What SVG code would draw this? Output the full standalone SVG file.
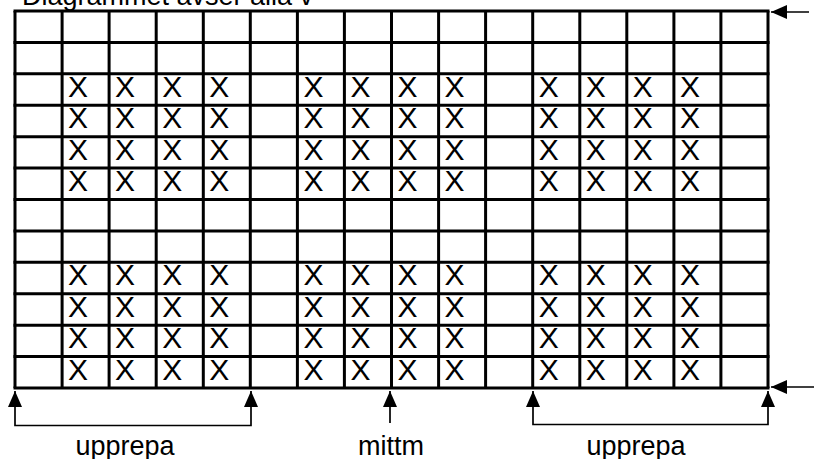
<svg xmlns="http://www.w3.org/2000/svg" width="814" height="459" viewBox="0 0 814 459">
<defs>
<style>
.grid line{stroke:#000;stroke-width:3}
.x text{font-family:"Liberation Sans",Arial,sans-serif;font-size:30px;fill:#000}
.lbl{font-family:"Liberation Sans",Arial,sans-serif;font-size:27px;fill:#000}
.conn path{fill:none;stroke:#000;stroke-width:1.7}
</style>
<marker id="ah" viewBox="0 0 16 14" refX="16" refY="7" markerWidth="16" markerHeight="14" markerUnits="userSpaceOnUse" orient="auto-start-reverse">
<path d="M0,0 L16,7 L0,14 z" fill="#000"/>
</marker>
</defs>
<rect width="814" height="459" fill="#fff"/>
<text class="lbl" x="22" y="5" font-size="28">Diagrammet avser alla v</text>
<g id="grid" class="grid">
<line x1="15" y1="11" x2="15" y2="388"/>
<line x1="62.1" y1="11" x2="62.1" y2="388"/>
<line x1="109.1" y1="11" x2="109.1" y2="388"/>
<line x1="156.2" y1="11" x2="156.2" y2="388"/>
<line x1="203.3" y1="11" x2="203.3" y2="388"/>
<line x1="250.3" y1="11" x2="250.3" y2="388"/>
<line x1="297.4" y1="11" x2="297.4" y2="388"/>
<line x1="344.4" y1="11" x2="344.4" y2="388"/>
<line x1="391.5" y1="11" x2="391.5" y2="388"/>
<line x1="438.6" y1="11" x2="438.6" y2="388"/>
<line x1="485.6" y1="11" x2="485.6" y2="388"/>
<line x1="532.7" y1="11" x2="532.7" y2="388"/>
<line x1="579.8" y1="11" x2="579.8" y2="388"/>
<line x1="626.8" y1="11" x2="626.8" y2="388"/>
<line x1="673.9" y1="11" x2="673.9" y2="388"/>
<line x1="720.9" y1="11" x2="720.9" y2="388"/>
<line x1="768" y1="11" x2="768" y2="388"/>
<line x1="13.5" y1="11" x2="769.5" y2="11"/>
<line x1="13.5" y1="42.4" x2="769.5" y2="42.4"/>
<line x1="13.5" y1="73.8" x2="769.5" y2="73.8"/>
<line x1="13.5" y1="105.3" x2="769.5" y2="105.3"/>
<line x1="13.5" y1="136.7" x2="769.5" y2="136.7"/>
<line x1="13.5" y1="168.1" x2="769.5" y2="168.1"/>
<line x1="13.5" y1="199.5" x2="769.5" y2="199.5"/>
<line x1="13.5" y1="230.9" x2="769.5" y2="230.9"/>
<line x1="13.5" y1="262.3" x2="769.5" y2="262.3"/>
<line x1="13.5" y1="293.8" x2="769.5" y2="293.8"/>
<line x1="13.5" y1="325.2" x2="769.5" y2="325.2"/>
<line x1="13.5" y1="356.6" x2="769.5" y2="356.6"/>
<line x1="13.5" y1="388" x2="769.5" y2="388"/>
</g>
<g id="marks" class="x">
<g id="block-top">
<text x="68.1" y="96.8">X</text><text x="115.1" y="96.8">X</text><text x="162.2" y="96.8">X</text><text x="209.3" y="96.8">X</text>
<text x="303.4" y="96.8">X</text><text x="350.4" y="96.8">X</text><text x="397.5" y="96.8">X</text><text x="444.6" y="96.8">X</text>
<text x="538.7" y="96.8">X</text><text x="585.8" y="96.8">X</text><text x="632.8" y="96.8">X</text><text x="679.9" y="96.8">X</text>
<text x="68.1" y="128.3">X</text><text x="115.1" y="128.3">X</text><text x="162.2" y="128.3">X</text><text x="209.3" y="128.3">X</text>
<text x="303.4" y="128.3">X</text><text x="350.4" y="128.3">X</text><text x="397.5" y="128.3">X</text><text x="444.6" y="128.3">X</text>
<text x="538.7" y="128.3">X</text><text x="585.8" y="128.3">X</text><text x="632.8" y="128.3">X</text><text x="679.9" y="128.3">X</text>
<text x="68.1" y="159.7">X</text><text x="115.1" y="159.7">X</text><text x="162.2" y="159.7">X</text><text x="209.3" y="159.7">X</text>
<text x="303.4" y="159.7">X</text><text x="350.4" y="159.7">X</text><text x="397.5" y="159.7">X</text><text x="444.6" y="159.7">X</text>
<text x="538.7" y="159.7">X</text><text x="585.8" y="159.7">X</text><text x="632.8" y="159.7">X</text><text x="679.9" y="159.7">X</text>
<text x="68.1" y="191.1">X</text><text x="115.1" y="191.1">X</text><text x="162.2" y="191.1">X</text><text x="209.3" y="191.1">X</text>
<text x="303.4" y="191.1">X</text><text x="350.4" y="191.1">X</text><text x="397.5" y="191.1">X</text><text x="444.6" y="191.1">X</text>
<text x="538.7" y="191.1">X</text><text x="585.8" y="191.1">X</text><text x="632.8" y="191.1">X</text><text x="679.9" y="191.1">X</text>
</g>
<g id="block-bottom">
<text x="68.1" y="285.3">X</text><text x="115.1" y="285.3">X</text><text x="162.2" y="285.3">X</text><text x="209.3" y="285.3">X</text>
<text x="303.4" y="285.3">X</text><text x="350.4" y="285.3">X</text><text x="397.5" y="285.3">X</text><text x="444.6" y="285.3">X</text>
<text x="538.7" y="285.3">X</text><text x="585.8" y="285.3">X</text><text x="632.8" y="285.3">X</text><text x="679.9" y="285.3">X</text>
<text x="68.1" y="316.8">X</text><text x="115.1" y="316.8">X</text><text x="162.2" y="316.8">X</text><text x="209.3" y="316.8">X</text>
<text x="303.4" y="316.8">X</text><text x="350.4" y="316.8">X</text><text x="397.5" y="316.8">X</text><text x="444.6" y="316.8">X</text>
<text x="538.7" y="316.8">X</text><text x="585.8" y="316.8">X</text><text x="632.8" y="316.8">X</text><text x="679.9" y="316.8">X</text>
<text x="68.1" y="348.2">X</text><text x="115.1" y="348.2">X</text><text x="162.2" y="348.2">X</text><text x="209.3" y="348.2">X</text>
<text x="303.4" y="348.2">X</text><text x="350.4" y="348.2">X</text><text x="397.5" y="348.2">X</text><text x="444.6" y="348.2">X</text>
<text x="538.7" y="348.2">X</text><text x="585.8" y="348.2">X</text><text x="632.8" y="348.2">X</text><text x="679.9" y="348.2">X</text>
<text x="68.1" y="379.6">X</text><text x="115.1" y="379.6">X</text><text x="162.2" y="379.6">X</text><text x="209.3" y="379.6">X</text>
<text x="303.4" y="379.6">X</text><text x="350.4" y="379.6">X</text><text x="397.5" y="379.6">X</text><text x="444.6" y="379.6">X</text>
<text x="538.7" y="379.6">X</text><text x="585.8" y="379.6">X</text><text x="632.8" y="379.6">X</text><text x="679.9" y="379.6">X</text>
</g>
</g>
<g id="connectors" class="conn">
<path d="M809,12 H771" marker-end="url(#ah)"/>
<path d="M814,387 H771" marker-end="url(#ah)"/>
<path d="M15,391 V425.5 H251 V391" marker-start="url(#ah)" marker-end="url(#ah)"/>
<path d="M390,423 V391" marker-end="url(#ah)"/>
<path d="M533,391 V424.5 H768 V391" marker-start="url(#ah)" marker-end="url(#ah)"/>
</g>
<g id="labels">
<text class="lbl" x="125" y="455" text-anchor="middle">upprepa</text>
<text class="lbl" x="391" y="455" text-anchor="middle">mittm</text>
<text class="lbl" x="636" y="455" text-anchor="middle">upprepa</text>
</g>
</svg>
